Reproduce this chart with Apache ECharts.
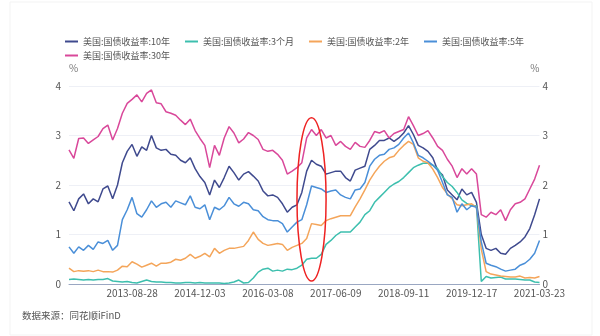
<!DOCTYPE html>
<html><head><meta charset="utf-8">
<script src="https://cdn.jsdelivr.net/npm/echarts@6/dist/echarts.min.js"></script>
<style>html,body{margin:0;padding:0;background:#fff}#c{width:600px;height:336px}</style>
</head><body><div id="c"></div>
<script>
const dates = [
'2012-06-25','2012-07-27','2012-08-29','2012-10-01','2012-11-02','2012-12-05','2013-01-07','2013-02-08','2013-03-13','2013-04-15',
'2013-05-17','2013-06-19','2013-07-23','2013-08-28','2013-09-30','2013-11-01','2013-12-04','2014-01-06','2014-02-07','2014-03-12',
'2014-04-14','2014-05-16','2014-06-18','2014-07-21','2014-08-22','2014-09-24','2014-10-29','2014-12-03','2015-01-05','2015-02-06',
'2015-03-11','2015-04-13','2015-05-15','2015-06-17','2015-07-20','2015-08-21','2015-09-23','2015-10-26','2015-11-27','2016-01-04',
'2016-02-05','2016-03-08','2016-04-11','2016-05-13','2016-06-15','2016-07-18','2016-08-19','2016-09-21','2016-10-24','2016-11-25',
'2016-12-29','2017-02-01','2017-03-06','2017-04-07','2017-05-10','2017-06-09','2017-07-12','2017-08-14','2017-09-15','2017-10-18',
'2017-11-20','2017-12-22','2018-01-25','2018-02-27','2018-04-02','2018-05-04','2018-06-06','2018-07-09','2018-08-10','2018-09-11',
'2018-10-15','2018-11-16','2018-12-19','2019-01-22','2019-02-25','2019-03-29','2019-05-01','2019-06-03','2019-07-05','2019-08-07',
'2019-09-09','2019-10-11','2019-11-13','2019-12-17','2020-01-20','2020-02-21','2020-03-25','2020-04-27','2020-05-29','2020-07-01',
'2020-08-03','2020-09-04','2020-10-07','2020-11-09','2020-12-11','2021-01-13','2021-02-16','2021-03-23'];
const tickLabels = ['2013-08-28','2014-12-03','2016-03-08','2017-06-09','2018-09-11','2019-12-17','2021-03-23'];
const seriesNames = ['美国:国债收益率:10年','美国:国债收益率:3个月','美国:国债收益率:2年','美国:国债收益率:5年','美国:国债收益率:30年'];
const tenY = [
1.66,1.48,1.72,1.82,1.62,1.72,1.66,1.92,1.98,1.72,
2.00,2.45,2.68,2.82,2.58,2.77,2.70,3.00,2.75,2.70,
2.72,2.62,2.60,2.50,2.45,2.55,2.33,2.17,2.05,1.80,
2.10,1.95,2.15,2.38,2.25,2.10,2.22,2.27,2.18,2.08,
1.88,1.78,1.80,1.75,1.62,1.45,1.55,1.60,1.85,2.28,
2.50,2.42,2.38,2.22,2.25,2.28,2.28,2.15,2.08,2.30,
2.34,2.38,2.72,2.80,2.90,2.90,2.95,2.88,2.95,3.05,
3.20,3.02,2.80,2.75,2.68,2.55,2.30,2.20,1.90,1.80,
1.70,1.92,1.80,1.85,1.65,1.00,0.72,0.68,0.72,0.62,
0.60,0.72,0.78,0.85,0.95,1.12,1.40,1.72];
const threeM = [
0.09,0.10,0.09,0.08,0.09,0.08,0.09,0.09,0.11,0.06,
0.05,0.04,0.05,0.03,0.02,0.05,0.08,0.05,0.04,0.04,
0.03,0.03,0.02,0.02,0.03,0.03,0.02,0.03,0.02,0.02,
0.02,0.02,0.01,0.02,0.04,0.08,0.02,0.03,0.12,0.24,
0.30,0.32,0.26,0.28,0.26,0.30,0.29,0.32,0.38,0.50,
0.52,0.52,0.60,0.80,0.88,0.98,1.05,1.05,1.05,1.15,
1.25,1.40,1.48,1.65,1.75,1.85,1.95,2.02,2.07,2.15,
2.25,2.35,2.40,2.44,2.44,2.40,2.33,2.17,2.05,1.97,
1.85,1.70,1.63,1.58,1.58,0.05,0.15,0.12,0.13,0.14,
0.10,0.10,0.10,0.09,0.08,0.08,0.04,0.03];
const twoY = [
0.32,0.25,0.27,0.26,0.27,0.25,0.28,0.25,0.25,0.24,
0.28,0.36,0.35,0.45,0.40,0.34,0.38,0.42,0.36,0.42,
0.42,0.44,0.50,0.48,0.52,0.60,0.52,0.56,0.62,0.55,
0.72,0.62,0.68,0.72,0.72,0.74,0.76,0.88,1.05,0.90,
0.82,0.78,0.80,0.82,0.80,0.68,0.74,0.78,0.82,0.92,
1.22,1.20,1.18,1.28,1.32,1.35,1.38,1.38,1.38,1.56,
1.72,1.90,2.10,2.25,2.38,2.48,2.55,2.58,2.70,2.80,
2.88,2.82,2.55,2.48,2.45,2.32,2.15,1.95,1.82,1.72,
1.60,1.58,1.60,1.62,1.55,0.70,0.25,0.20,0.18,0.16,
0.15,0.14,0.14,0.16,0.12,0.13,0.12,0.15];
const fiveY = [
0.75,0.62,0.75,0.68,0.78,0.70,0.85,0.82,0.88,0.68,
0.78,1.30,1.50,1.75,1.42,1.35,1.50,1.68,1.55,1.62,
1.65,1.55,1.68,1.64,1.60,1.78,1.55,1.52,1.60,1.30,
1.55,1.50,1.58,1.75,1.62,1.57,1.65,1.62,1.50,1.48,
1.36,1.30,1.28,1.28,1.22,1.05,1.15,1.25,1.30,1.60,
1.98,1.95,1.92,1.85,1.88,1.90,1.80,1.75,1.72,1.90,
1.92,2.05,2.38,2.52,2.60,2.62,2.72,2.75,2.82,2.95,
3.05,2.85,2.60,2.55,2.48,2.40,2.30,2.05,1.80,1.75,
1.45,1.62,1.50,1.58,1.55,0.85,0.42,0.38,0.35,0.30,
0.26,0.28,0.30,0.38,0.42,0.50,0.62,0.88];
const thirtyY = [
2.71,2.54,2.94,2.95,2.84,2.91,2.98,3.14,3.21,2.91,
3.14,3.45,3.65,3.73,3.82,3.68,3.85,3.92,3.66,3.64,
3.48,3.45,3.41,3.31,3.22,3.33,3.10,2.94,2.80,2.35,
2.80,2.60,2.95,3.18,3.05,2.85,2.93,3.06,3.00,2.92,
2.72,2.68,2.70,2.62,2.50,2.22,2.28,2.35,2.45,2.95,
3.12,3.00,3.12,2.95,3.00,2.80,2.88,2.78,2.72,2.86,
2.78,2.76,2.90,3.08,3.05,3.10,2.95,3.04,3.08,3.12,
3.38,3.20,3.00,3.04,3.10,2.95,2.78,2.70,2.52,2.38,
2.15,2.33,2.22,2.33,2.22,1.40,1.35,1.45,1.40,1.50,
1.28,1.50,1.62,1.65,1.72,1.92,2.12,2.40];
const allSeries = [tenY, threeM, twoY, fiveY, thirtyY];
const colors = ['#3f4a8e','#3dbfae','#f4a55a','#4a8fd8','#d9489a'];
// annotation ellipse in data units: [category index, value]
const ellipseCenter = [49.7, 1.71];
const ellipseRadius = [3.0, 1.65];

const FONT = '"Noto Sans CJK SC","Noto Sans",sans-serif';
const chart = echarts.init(document.getElementById('c'));
const legendBase = {icon:'rect', itemWidth:13, itemHeight:2, itemGap:15, left:60,
  textStyle:{fontSize:9, color:'#555', fontFamily:FONT}};
chart.setOption({
  animation:false,
  color: colors,
  textStyle:{fontFamily:FONT},
  legend:[
    Object.assign({}, legendBase, {top:32, data:seriesNames.slice(0,4)}),
    Object.assign({}, legendBase, {top:46, data:seriesNames.slice(4)})
  ],
  grid:{left:69, right:60.5, top:86, bottom:52},
  xAxis:{type:'category', data:dates, boundaryGap:false,
    axisLine:{lineStyle:{color:'#9aa7c2'}}, axisTick:{show:false},
    splitLine:{show:false},
    axisLabel:{interval:(i,v)=>tickLabels.includes(v), color:'#555', fontSize:10, margin:4}},
  yAxis:[
    {type:'value', min:0, max:4, interval:1, name:'%', nameGap:13,
     nameTextStyle:{color:'#777', fontSize:10, align:'left'},
     axisLine:{show:false}, axisTick:{show:false},
     axisLabel:{color:'#555', fontSize:10, margin:8},
     splitLine:{lineStyle:{color:'#eef0f6'}}},
    {type:'value', position:'right', min:0, max:4, interval:1, name:'%', nameGap:13,
     nameTextStyle:{color:'#777', fontSize:10, align:'right'},
     axisLine:{show:false}, axisTick:{show:false},
     axisLabel:{color:'#555', fontSize:10, margin:3},
     splitLine:{show:false}}
  ],
  series: allSeries.map((d,k)=>({name:seriesNames[k], type:'line', data:d, showSymbol:false,
    symbol:'none', lineStyle:{width:1.5, color:colors[k]}, itemStyle:{color:colors[k]}, z:2+k}))
});
const c = chart.convertToPixel({xAxisIndex:0, yAxisIndex:0}, ellipseCenter);
const px = chart.convertToPixel({xAxisIndex:0, yAxisIndex:0}, [ellipseCenter[0]+ellipseRadius[0], ellipseCenter[1]+ellipseRadius[1]]);
chart.setOption({
  graphic:[
    {type:'rect', shape:{x:10, y:2, width:582, height:333}, style:{fill:'none', stroke:'#f3f3f3', lineWidth:1}, silent:true, z:0},
    {type:'text', left:22, top:311, style:{text:'数据来源：同花顺iFinD', fontSize:9.5, fill:'#555', fontFamily:FONT}},
    {type:'ellipse', shape:{cx:c[0], cy:c[1], rx:px[0]-c[0], ry:c[1]-px[1]},
     style:{fill:'none', stroke:'#ee2222', lineWidth:1.5}, z:100}
  ]
});
</script></body></html>
